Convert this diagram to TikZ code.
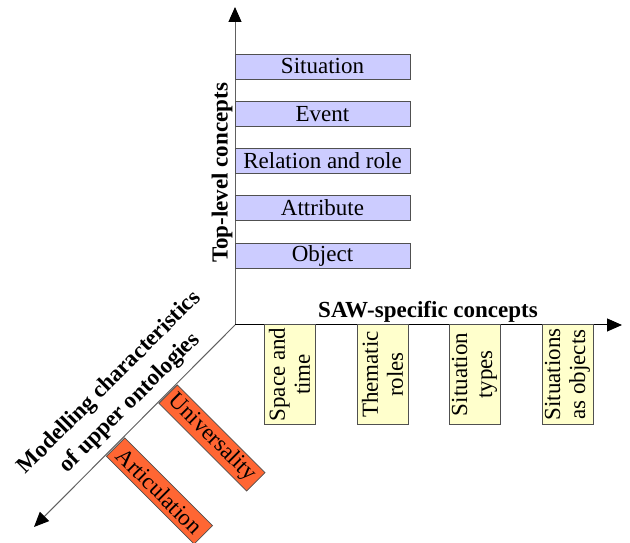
\documentclass[tikz,border=0pt]{standalone}
\usepackage{fontspec}
\setmainfont{Liberation Serif}
\usetikzlibrary{arrows.meta}
\definecolor{purplebox}{HTML}{CCCCFF}
\definecolor{yellowbox}{HTML}{FFFFCC}
\definecolor{orangebox}{HTML}{FF6633}
\definecolor{axisgray}{HTML}{606060}
\definecolor{bordergray}{HTML}{505050}
\begin{document}
\begin{tikzpicture}[x=1pt,y=1pt,
  txt/.style={font=\fontsize{23}{25}\selectfont},
  btxt/.style={font=\bfseries\fontsize{23}{29}\selectfont},
  topbox/.style={draw=bordergray, line width=0.8pt, fill=purplebox, minimum width=175pt, minimum height=25pt, inner sep=0pt, txt},
  sawbox/.style={draw=bordergray, line width=0.8pt, fill=yellowbox, minimum width=100pt, minimum height=51pt, inner sep=0pt, rotate=90, align=center, txt},
  charbox/.style={draw=bordergray, line width=0.8pt, fill=orangebox, minimum width=124pt, minimum height=26pt, inner sep=0pt, rotate=-45, txt},
  axis/.style={draw=axisgray, line width=1pt, -{Triangle[length=15pt,width=13pt,color=black]}}
]
\useasboundingbox (0,0) rectangle (630,543);
\coordinate (O) at (235,218);
\coordinate (ytip) at (235,536);
\coordinate (xtip) at (622,218);
\coordinate (dtip) at (34,16);

\draw[axis] (O) -- (ytip);
\draw[axis, draw=black] (O) -- (xtip);
\draw[axis] (O) -- (dtip);

% top-level boxes
\node[topbox] (situation) at (322.5,476.5) {Situation};
\node[topbox] (event) at (322.5,429.3) {Event};
\node[topbox] (relation) at (322.5,382.3) {Relation and role};
\node[topbox] (attribute) at (322.5,335.1) {Attribute};
\node[topbox] (object) at (322.5,287.5) {Object};

% SAW boxes
\node[sawbox] (space) at (289.5,168.5) {Space and\\time};
\node[sawbox] (thematic) at (382.5,168.5) {Thematic\\roles};
\node[sawbox] (types) at (474.5,168.5) {Situation\\types};
\node[sawbox] (asobj) at (567.5,168.5) {Situations\\as objects};

% characteristic boxes
\node[charbox] (univ) at (212,105) {Universality};
\node[charbox] (artic) at (159.5,52) {Articulation};

% axis labels
\node[btxt, rotate=90] (toplabel) at (222,370) {Top-level concepts};
\node[btxt] (sawlabel) at (428,231) {SAW-specific concepts};
\node[btxt, rotate=45, align=center] (modlabel) at (120,150) {Modelling characteristics\\of upper ontologies};
\end{tikzpicture}
\end{document}
